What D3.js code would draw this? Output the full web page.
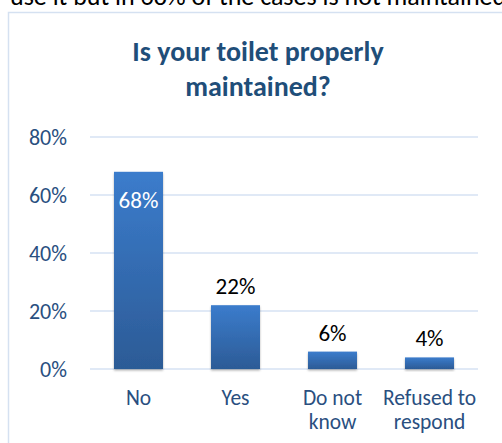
<!DOCTYPE html>
<html>
<head>
<meta charset="utf-8">
<script src="https://cdn.jsdelivr.net/npm/d3@7"></script>
<style>
  html, body { margin: 0; padding: 0; background: #fff; }
  svg { display: block; }
  text { font-family: Carlito, Lato, "Open Sans", sans-serif; }
</style>
</head>
<body>
<svg id="chart" width="502" height="443"></svg>
<script>
// Survey answers and their shares (%)
const categories = ["No", "Yes", "Do not know", "Refused to respond"];
const categoryLines = [["No"], ["Yes"], ["Do not", "know"], ["Refused to", "respond"]];
const values = [68, 22, 6, 4];
const yTicks = [0, 20, 40, 60, 80];
const titleLines = ["Is your toilet properly", "maintained?"];
const bodyText = "use it but in 68% of the cases is not maintained";

const svg = d3.select("#chart");

// Running text of the document, cut by the top edge
svg.append("text")
  .attr("x", 10).attr("y", 5)
  .attr("font-size", 26).attr("fill", "#000")
  .text(bodyText);

// Chart frame
svg.append("rect")
  .attr("x", 8.5).attr("y", 12.5)
  .attr("width", 520).attr("height", 460)
  .attr("fill", "#fff")
  .attr("stroke", "#d5e1f1").attr("stroke-width", 1.5);

// Title
svg.append("text")
  .attr("text-anchor", "middle")
  .attr("font-size", 28).attr("font-weight", "bold").attr("fill", "#1f4e79")
  .selectAll("tspan").data(titleLines).join("tspan")
  .attr("x", 258).attr("y", (d, i) => 61 + i * 35)
  .text(d => d);

const x = d3.scaleBand().domain(categories).range([90, 478]).paddingInner(0.495).paddingOuter(0.2475);
const y = d3.scaleLinear().domain([0, 80]).range([369, 137]);

// Gridlines
svg.append("g").selectAll("line").data(yTicks).join("line")
  .attr("x1", 90).attr("x2", 478)
  .attr("y1", d => y(d)).attr("y2", d => y(d))
  .attr("stroke", "#d6e2f3").attr("stroke-width", 1.5);

// Y axis labels
const yAxis = d3.axisLeft(y).tickValues(yTicks).tickFormat(d => d + "%").tickSize(0).tickPadding(0);
const yg = svg.append("g").attr("transform", "translate(67,0)").call(yAxis);
yg.select(".domain").remove();
yg.selectAll("text")
  .attr("font-size", 22).attr("fill", "#2a4f7f")
  .attr("font-family", "Carlito, Lato, 'Open Sans', sans-serif")
  .attr("dy", "0.35em");

// Bar fill and shadow
const defs = svg.append("defs");
const grad = defs.append("linearGradient").attr("id", "barGrad")
  .attr("x1", 0).attr("y1", 0).attr("x2", 0).attr("y2", 1);
grad.append("stop").attr("offset", "0%").attr("stop-color", "#3b7ccc");
grad.append("stop").attr("offset", "100%").attr("stop-color", "#2c5b96");
const shadow = defs.append("filter").attr("id", "barShadow")
  .attr("x", "-20%").attr("y", "-20%").attr("width", "140%").attr("height", "140%");
shadow.append("feDropShadow").attr("dx", 0).attr("dy", 1.5).attr("stdDeviation", 1.2)
  .attr("flood-color", "#000").attr("flood-opacity", 0.3);

svg.append("g").selectAll("rect").data(values).join("rect")
  .attr("x", (d, i) => x(categories[i]))
  .attr("width", x.bandwidth())
  .attr("y", d => y(d))
  .attr("height", d => y(0) - y(d))
  .attr("fill", "url(#barGrad)")
  .attr("filter", "url(#barShadow)");

// Value labels: inside the tallest bar, above the others
svg.append("g").selectAll("text").data(values).join("text")
  .attr("text-anchor", "middle")
  .attr("font-size", 23)
  .attr("x", (d, i) => x(categories[i]) + x.bandwidth() / 2)
  .attr("y", d => d > 50 ? y(d) + 36 : y(d) - 11)
  .attr("fill", d => d > 50 ? "#fff" : "#000")
  .text(d => d + "%");

// Category labels
const cg = svg.append("g").selectAll("text").data(categories).join("text")
  .attr("text-anchor", "middle")
  .attr("font-size", 21.5).attr("fill", "#2a4f7f")
  .attr("transform", d => `translate(${x(d) + x.bandwidth() / 2},0)`);
cg.selectAll("tspan").data((d, i) => categoryLines[i]).join("tspan")
  .attr("x", 0).attr("y", (d, i) => 405 + i * 24)
  .text(d => d);
</script>
</body>
</html>
